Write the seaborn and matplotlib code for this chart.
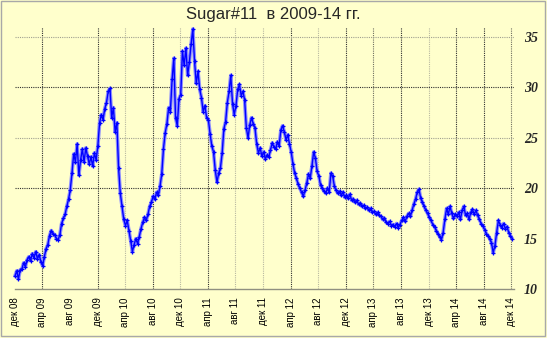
import numpy as np
import pandas as pd
import matplotlib
matplotlib.use("Agg")
import matplotlib.pyplot as plt
from matplotlib.patches import Rectangle
import seaborn as sns

title = "Sugar#11  в 2009-14 гг."
first_day, last_day = "2008-12-01", "2014-12-05"

# Sugar #11 quotes, four readings per month, Dec 2008 .. early Dec 2014
price = [
    11.3, 11.8, 11.0, 11.9,   12.0, 12.6, 12.2, 12.9,   13.2, 12.8, 13.5, 13.1,
    13.7, 13.0, 13.4, 12.7,   12.3, 13.2, 14.0, 14.4,   15.3, 15.8, 15.5, 15.4,
    15.0, 14.9, 15.4, 16.5,   17.0, 17.4, 18.2, 18.9,   19.8, 21.5, 23.4, 22.6,
    24.4, 21.3, 22.8, 23.9,   22.6, 24.0, 23.2, 22.4,   23.1, 22.2, 23.5, 22.8,
    24.2, 26.5, 27.3, 26.8,   27.9, 28.5, 29.6, 29.9,   27.0, 28.0, 25.6, 26.5,
    22.0, 19.5, 18.2, 16.9,   16.3, 16.8, 15.8, 14.8,   13.7, 14.4, 15.0, 14.5,
    15.2, 16.0, 16.6, 17.1,   16.8, 17.4, 18.2, 18.6,   19.2, 18.9, 19.6, 19.3,
    20.2, 21.4, 23.9, 25.5,   26.4, 28.0, 27.6, 30.8,   32.9, 27.0, 26.2, 28.9,
    29.3, 33.6, 32.2, 33.9,   31.2, 32.5, 34.3, 35.8,   32.6, 30.4, 31.6, 29.8,
    29.0, 27.6, 28.2, 27.0,   26.8, 25.4, 24.2, 23.6,   21.8, 20.6, 21.5, 22.0,
    23.5, 25.9, 26.6, 28.5,   29.6, 31.2, 28.4, 27.3,   28.2, 29.8, 30.3, 29.2,
    29.6, 28.8, 26.0, 25.0,   26.3, 27.0, 26.4, 26.0,   24.4, 23.5, 24.0, 23.2,
    23.6, 22.9, 23.3, 23.1,   23.8, 24.5, 24.1, 23.9,   24.6, 24.2, 25.8, 26.2,
    25.6, 24.8, 25.3, 24.4,   23.6, 22.4, 21.5, 21.0,   20.4, 20.0, 19.6, 19.2,
    19.8, 20.5, 21.4, 21.0,   22.2, 23.6, 23.0, 21.7,   21.2, 20.3, 20.0, 19.7,
    19.5, 20.0, 19.6, 21.5,   21.2, 20.2, 19.8, 19.5,   19.7, 19.3, 19.6, 19.1,
    19.3, 19.0, 19.4, 18.8,   18.9, 18.6, 18.8, 18.4,   18.5, 18.2, 18.3, 18.0,
    18.1, 17.8, 18.0, 17.6,   17.7, 17.4, 17.6, 17.3,   17.2, 16.9, 17.0, 16.6,
    16.5, 16.7, 16.3, 16.4,   16.2, 16.5, 16.1, 16.4,   16.8, 17.1, 16.7, 17.2,
    17.5, 17.2, 17.8, 18.4,   18.9, 19.6, 19.9, 19.0,   18.6, 18.2, 17.8, 17.5,
    17.1, 16.8, 16.4, 16.2,   15.8, 15.5, 15.2, 14.9,   15.6, 16.9, 18.0, 17.4,
    18.2, 17.5, 17.0, 17.4,   17.2, 17.6, 16.9, 17.8,   18.2, 17.3, 17.5, 16.9,
    17.6, 17.9, 17.4, 17.8,   17.3, 16.9, 16.5, 16.3,   15.9, 15.5, 15.3, 15.0,
    14.6, 13.6, 14.3, 15.6,   16.8, 16.4, 16.1, 16.5,   16.0, 16.2, 15.6, 15.3,
    15.0,
]

tick_labels = ["дек 08", "апр 09", "авг 09", "дек 09", "апр 10", "авг 10",
               "дек 10", "апр 11", "авг 11", "дек 11", "апр 12", "авг 12",
               "дек 12", "апр 13", "авг 13", "дек 13", "апр 14", "авг 14",
               "дек 14"]
y_ticks = [10, 15, 20, 25, 30, 35]

df = pd.DataFrame({
    "date": pd.date_range(first_day, last_day, periods=len(price)),
    "price": price,
})
tick_dates = pd.date_range("2008-12-01", periods=len(tick_labels), freq="4MS")

sns.set_style("white")
bg = "#ffffcc"
W, H = 547, 338
fig = plt.figure(figsize=(W / 100, H / 100), dpi=100, facecolor=bg)
ax = fig.add_axes([15 / W, 1 - 289 / H, (514 - 15) / W, (289 - 27) / H])
ax.set_facecolor(bg)

# vertical grid: per-tick shade (None = no line)
dark, light, mid = "#303030", "#b8b8a0", "#707060"
vcol = [None, dark, None, dark, light, dark, light, dark, light, light,
        dark, light, dark, mid, dark, light, dark, dark, mid]
for d, c in zip(tick_dates, vcol):
    if c is not None:
        ax.axvline(d, color=c, lw=0.8, ls=(0, (1, 1)), zorder=1)
# horizontal grid
for v, c in [(20, dark), (25, "#a0a090"), (30, dark), (35, "#a0a090")]:
    ax.axhline(v, color=c, lw=0.8, ls=(0, (1, 1)), zorder=1)

# daily range haze and closing line
sns.lineplot(data=df, x="date", y="price", ax=ax, color="#8c8cff",
             lw=2.6, zorder=2, clip_on=False)
sns.lineplot(data=df, x="date", y="price", ax=ax, color="#0000ff",
             lw=1.0, marker="+", markersize=3.5, markeredgewidth=0.9,
             markeredgecolor="#0000ff", zorder=3, clip_on=False)

ax.set_xlim(pd.Timestamp("2008-12-01"), pd.Timestamp("2014-12-13"))
ax.set_ylim(10, 36)
ax.set_xlabel("")
ax.set_ylabel("")

ax.set_xticks(tick_dates)
ax.set_xticklabels(tick_labels, rotation=90, fontsize=7,
                   family="Liberation Sans", color="#000000")
ax.tick_params(axis="x", length=4, width=0.8, pad=2, direction="out")
for t, c in zip(ax.xaxis.get_major_ticks(), vcol):
    t.tick1line.set_color(c if c is not None else bg)

ax.yaxis.tick_right()
ax.set_yticks(y_ticks)
ax.set_yticklabels([str(v) for v in y_ticks], fontsize=10,
                   family="Liberation Serif", style="italic", weight="bold")
ax.tick_params(axis="y", length=0, pad=7)

for s in ["left", "right", "top"]:
    ax.spines[s].set_visible(False)
ax.spines["bottom"].set_color("#909080")
ax.spines["bottom"].set_linewidth(1.0)

fig.text(273 / W, 1 - 15 / H, title, ha="center", va="center",
         fontsize=12, family="Liberation Sans")

fig.patches.append(Rectangle((1 / W, 2 / H), 544 / W, 335 / H,
                             transform=fig.transFigure, fill=False,
                             edgecolor="#a8a8a8", lw=1.0))

fig.savefig("out.png", dpi=100, facecolor=bg)
